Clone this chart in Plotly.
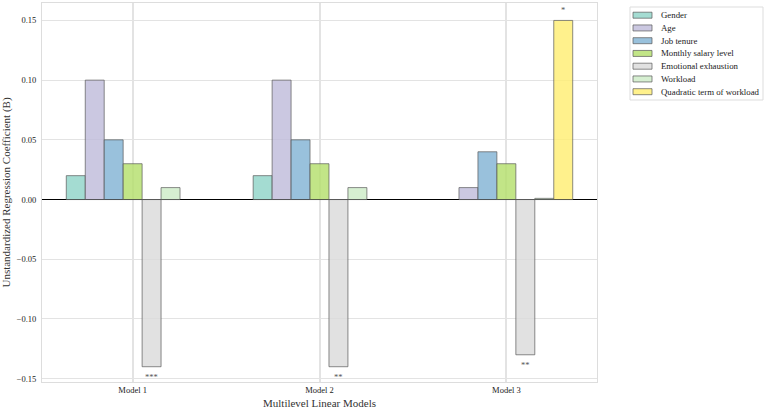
import plotly.graph_objects as go

models = ["Model 1", "Model 2", "Model 3"]
variables = ["Gender", "Age", "Job tenure", "Monthly salary level",
             "Emotional exhaustion", "Workload", "Quadratic term of workload"]
gender = [0.02, 0.02, None]
age = [0.10, 0.10, 0.01]
job_tenure = [0.05, 0.05, 0.04]
salary = [0.03, 0.03, 0.03]
emotional = [-0.14, -0.14, -0.13]
workload = [0.01, 0.01, 0.001]
quadratic = [None, None, 0.15]
series = [gender, age, job_tenure, salary, emotional, workload, quadratic]
colors = ["rgba(141,211,199,0.8)", "rgba(190,186,218,0.8)", "rgba(128,177,211,0.8)",
          "rgba(179,222,105,0.8)", "rgba(217,217,217,0.8)", "rgba(204,235,197,0.8)",
          "rgba(255,237,111,0.8)"]
edge = "rgba(90,90,90,0.7)"
# significance markers: (model index, variable index, label)
stars = [(0, 4, "***"), (1, 4, "**"), (2, 4, "**"), (2, 6, "*")]

W, H = 767, 413
ML, MR, MT, MB = 42, 170, 3, 31
PW, PH = W - ML - MR, H - MT - MB


def px(x):
    return (x - ML) / PW


def py(y):
    return (H - MB - y) / PH


fig = go.Figure()
for name, vals, c in zip(variables, series, colors):
    fig.add_trace(go.Bar(x=models, y=vals, name=name, marker_color=c,
                         marker_line=dict(color=edge, width=1), showlegend=False))

n = len(variables)
bargap = 0.29
bw = (1 - bargap) / n
for mi, vi, lab in stars:
    v = series[vi][mi]
    xpos = mi - (1 - bargap) / 2 + bw * (vi + 0.5)
    fig.add_annotation(x=xpos, y=v, xref="x", yref="y", text=lab, showarrow=False,
                       yshift=-10 if v < 0 else 10,
                       font=dict(size=8.5, color="#555555", family="Liberation Serif"))

# manual legend (compact, like the reference)
shapes = [dict(type="rect", xref="paper", yref="paper", x0=px(630), x1=px(763),
               y0=py(100), y1=py(7), line=dict(color="#dddddd", width=1),
               fillcolor="white", layer="above")]
for i, (name, c) in enumerate(zip(variables, colors)):
    yc = 15.2 + i * 12.75
    shapes.append(dict(type="rect", xref="paper", yref="paper", x0=px(633), x1=px(652),
                       y0=py(yc + 3), y1=py(yc - 3), fillcolor=c,
                       line=dict(color=edge, width=1), layer="above"))
    fig.add_annotation(x=px(659), y=py(yc), xref="paper", yref="paper", text=name,
                       showarrow=False, xanchor="left", yanchor="middle",
                       font=dict(size=8.8, color="#222222", family="Liberation Serif"))

fig.update_layout(
    width=W, height=H,
    margin=dict(l=ML, r=MR, t=MT, b=MB, autoexpand=False),
    barmode="group", bargap=bargap, bargroupgap=0,
    plot_bgcolor="white", paper_bgcolor="white",
    font=dict(family="Liberation Serif", size=10, color="#333333"),
    showlegend=False,
    shapes=shapes,
    xaxis=dict(type="category", range=[-0.485, 2.485], showgrid=True,
               gridcolor="#e3e3e3", gridwidth=1.5,
               title=dict(text="Multilevel Linear Models", font=dict(size=11), standoff=5),
               showline=True, linecolor="#dddddd", mirror=True, ticks="",
               tickfont=dict(size=8.5, color="#222222")),
    yaxis=dict(range=[-0.1528, 0.1646], tickvals=[-0.15, -0.10, -0.05, 0, 0.05, 0.10, 0.15],
               tickformat=".2f", showgrid=True, gridcolor="#e3e3e3", gridwidth=1,
               zeroline=True, zerolinecolor="black", zerolinewidth=1.2,
               title=dict(text="Unstandardized Regression Coefficient (B)", font=dict(size=11), standoff=8),
               showline=True, linecolor="#dddddd", mirror=True, ticks="",
               ticklabelstandoff=3,
               tickfont=dict(size=8.5, color="#222222")),
)
fig.write_html("out.html")
